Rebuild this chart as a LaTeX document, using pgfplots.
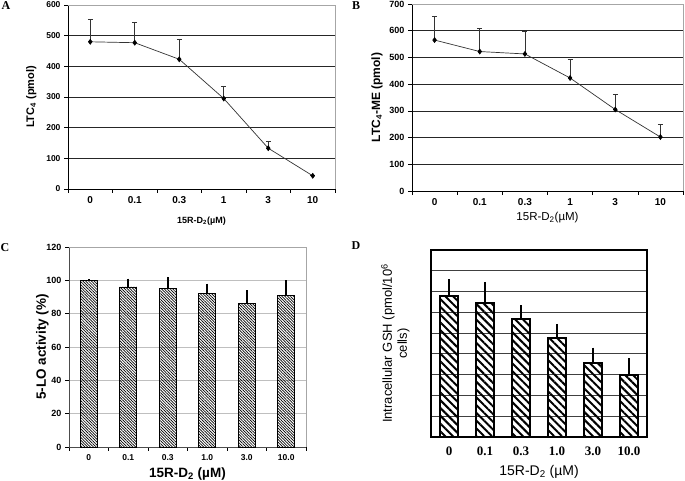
\documentclass[border=0pt]{standalone}
\usepackage{pgfplots}
\pgfplotsset{compat=1.18}
\usetikzlibrary{patterns.meta}
\usepackage{fontspec}
\setmainfont{Liberation Sans}
\newfontfamily\timesfont{Liberation Serif}
\pgfplotsset{
  /pgf/number format/assume math mode=true,
  catax/.style={
    scale only axis, anchor=south west,
    xmin=-0.5, xmax=5.5,
    xtick={0,...,5},
    minor xtick={-0.5,0.5,...,5.5},
    tick align=outside, xtick pos=bottom, ytick pos=left,
    major x tick style={draw=none},
    minor tick length=4pt, major tick length=4pt,
    every tick/.style={black, line width=0.6pt},
    axis lines*=left,
    axis line style={black, line width=0.8pt},
    ymajorgrids,
    clip=false,
  },
}
\begin{document}
\begin{tikzpicture}[x=1pt,y=1pt]
\path[use as bounding box] (0pt,0pt) rectangle (685pt,481pt);
% panel letters
\node[font=\timesfont\bfseries\fontsize{12}{12}\selectfont] at (6pt,475pt) {A};
\node[font=\timesfont\bfseries\fontsize{12}{12}\selectfont] at (356pt,475pt) {B};
\node[font=\timesfont\bfseries\fontsize{12}{12}\selectfont] at (5pt,233pt) {C};
\node[font=\timesfont\bfseries\fontsize{12}{12}\selectfont] at (356pt,235pt) {D};

% ---------------- A ----------------
\begin{axis}[catax, at={(68pt,292pt)}, width=267pt, height=184pt,
  ymin=0, ymax=600, ytick={0,100,...,600},
  xticklabels={0,0.1,0.3,1,3,10},
  major grid style={black!85, line width=0.7pt},
  yticklabel style={font=\bfseries\fontsize{8.5}{9}\selectfont},
  xticklabel style={font=\bfseries\fontsize{10}{10}\selectfont},
  xlabel={15R-D\textsubscript{2}(µM)},
  xlabel style={font=\bfseries\fontsize{9}{9}\selectfont},
  xlabel shift=6pt,
  ylabel={LTC\textsubscript{4} (pmol)},
  ylabel style={font=\bfseries\fontsize{11}{11}\selectfont},
  ylabel shift=3pt,
  after end axis/.code={\draw[gray!70, line width=0.8pt] (rel axis cs:0,1) -- (rel axis cs:1,1) -- (rel axis cs:1,0);},
]
\addplot[gray!40!black, line width=0.7pt, mark=diamond*, mark size=2.4pt,
  mark options={black, fill=black},
  error bars/.cd, y dir=plus, y explicit, error mark=-,
  error mark options={rotate=90, gray!40!black, mark size=2.5pt, line width=0.8pt},
  error bar style={gray!40!black, line width=0.7pt}]
  coordinates {(0,480) +- (0,72) (1,477) +- (0,66) (2,423) +- (0,64)
               (3,295) +- (0,40) (4,133) +- (0,22) (5,43) +- (0,0)};
\end{axis}

% ---------------- B ----------------
\begin{axis}[catax, at={(412pt,290pt)}, width=271pt, height=187pt,
  ymin=0, ymax=700, ytick={0,100,...,700},
  xticklabels={0,0.1,0.3,1,3,10},
  major grid style={black!85, line width=0.7pt},
  yticklabel style={font=\bfseries\fontsize{9}{9}\selectfont},
  xticklabel style={font=\bfseries\fontsize{10}{10}\selectfont},
  xlabel={15R-D\textsubscript{2}(µM)},
  xlabel style={font=\fontsize{11.5}{11.5}\selectfont},
  ylabel={LTC\textsubscript{4}-ME (pmol)},
  ylabel style={font=\bfseries\fontsize{12}{12}\selectfont},
  after end axis/.code={\draw[gray!70, line width=0.8pt] (rel axis cs:0,1) -- (rel axis cs:1,1) -- (rel axis cs:1,0);},
]
\addplot[gray!40!black, line width=0.7pt, mark=diamond*, mark size=2.4pt,
  mark options={black, fill=black},
  error bars/.cd, y dir=plus, y explicit, error mark=-,
  error mark options={rotate=90, gray!40!black, mark size=2.5pt, line width=0.8pt},
  error bar style={gray!40!black, line width=0.7pt}]
  coordinates {(0,565) +- (0,90) (1,522) +- (0,86) (2,513) +- (0,84)
               (3,423) +- (0,70) (4,305) +- (0,58) (5,202) +- (0,48)};
\end{axis}

% ---------------- C ----------------
\begin{axis}[catax, at={(69pt,34pt)}, width=237pt, height=200pt,
  ymin=0, ymax=120, ytick={0,20,...,120},
  xticklabels={0,0.1,0.3,1.0,3.0,10.0},
  axis line style={black!70, line width=0.8pt},
  major grid style={gray!50, line width=0.8pt},
  yticklabel style={font=\bfseries\fontsize{9}{9}\selectfont},
  xticklabel style={font=\bfseries\fontsize{8.5}{8.5}\selectfont},
  xlabel={15R-D\textsubscript{2} (µM)},
  xlabel style={font=\bfseries\fontsize{13.5}{13.5}\selectfont},
  xlabel shift=0pt,
  ylabel={5-LO activity (\%)},
  ylabel style={font=\bfseries\fontsize{13.5}{13.5}\selectfont},
  ylabel shift=-9pt,
  after end axis/.code={\draw[gray!70, line width=0.8pt] (rel axis cs:0,1) -- (rel axis cs:1,1) -- (rel axis cs:1,0);},
]
\addplot[ybar, bar width=17pt, draw=black, line width=0.9pt,
  pattern={Lines[angle=-45, distance=2pt, line width=0.7pt]}, pattern color=black,
  error bars/.cd, y dir=plus, y explicit, error mark=none,
  error bar style={black, line width=2pt}]
  coordinates {(0,100) +- (0,0.5) (1,96) +- (0,5) (2,95) +- (0,7)
               (3,92) +- (0,6) (4,86) +- (0,8) (5,91) +- (0,9)};
\end{axis}

% ---------------- D ----------------
\begin{axis}[scale only axis, anchor=south west, at={(431pt,44pt)}, width=216pt, height=187pt,
  xmin=-0.5, xmax=5.5, ymin=0, ymax=9,
  xtick={0,...,5}, xticklabels={0,0.1,0.3,1.0,3.0,10.0},
  ytick={0,...,9}, yticklabels={},
  major tick length=0pt,
  axis line style={black, line width=1.6pt},
  ymajorgrids, major grid style={black!75, line width=0.9pt},
  xticklabel style={font=\timesfont\bfseries\fontsize{13}{13}\selectfont, yshift=-6pt},
  xlabel={15R-D\textsubscript{2} (µM)},
  xlabel style={font=\fontsize{14}{14}\selectfont},
  xlabel shift=3pt,
  ylabel={Intracellular GSH (pmol/10\textsuperscript{6}\\cells)},
  ylabel style={font=\fontsize{13}{15}\selectfont, align=center},
  ylabel shift=11pt,
  clip=false,
]
\addplot[ybar, bar width=18pt, draw=black, line width=2pt,
  pattern={Lines[angle=-45, distance=5.5pt, line width=2pt]}, pattern color=black,
  error bars/.cd, y dir=plus, y explicit, error mark=none,
  error bar style={black, line width=2.2pt}]
  coordinates {(0,6.78) +- (0,0.82) (1,6.46) +- (0,1.01) (2,5.68) +- (0,0.67)
               (3,4.77) +- (0,0.67) (4,3.55) +- (0,0.75) (5,2.96) +- (0,0.83)};
\end{axis}
\end{tikzpicture}
\end{document}
